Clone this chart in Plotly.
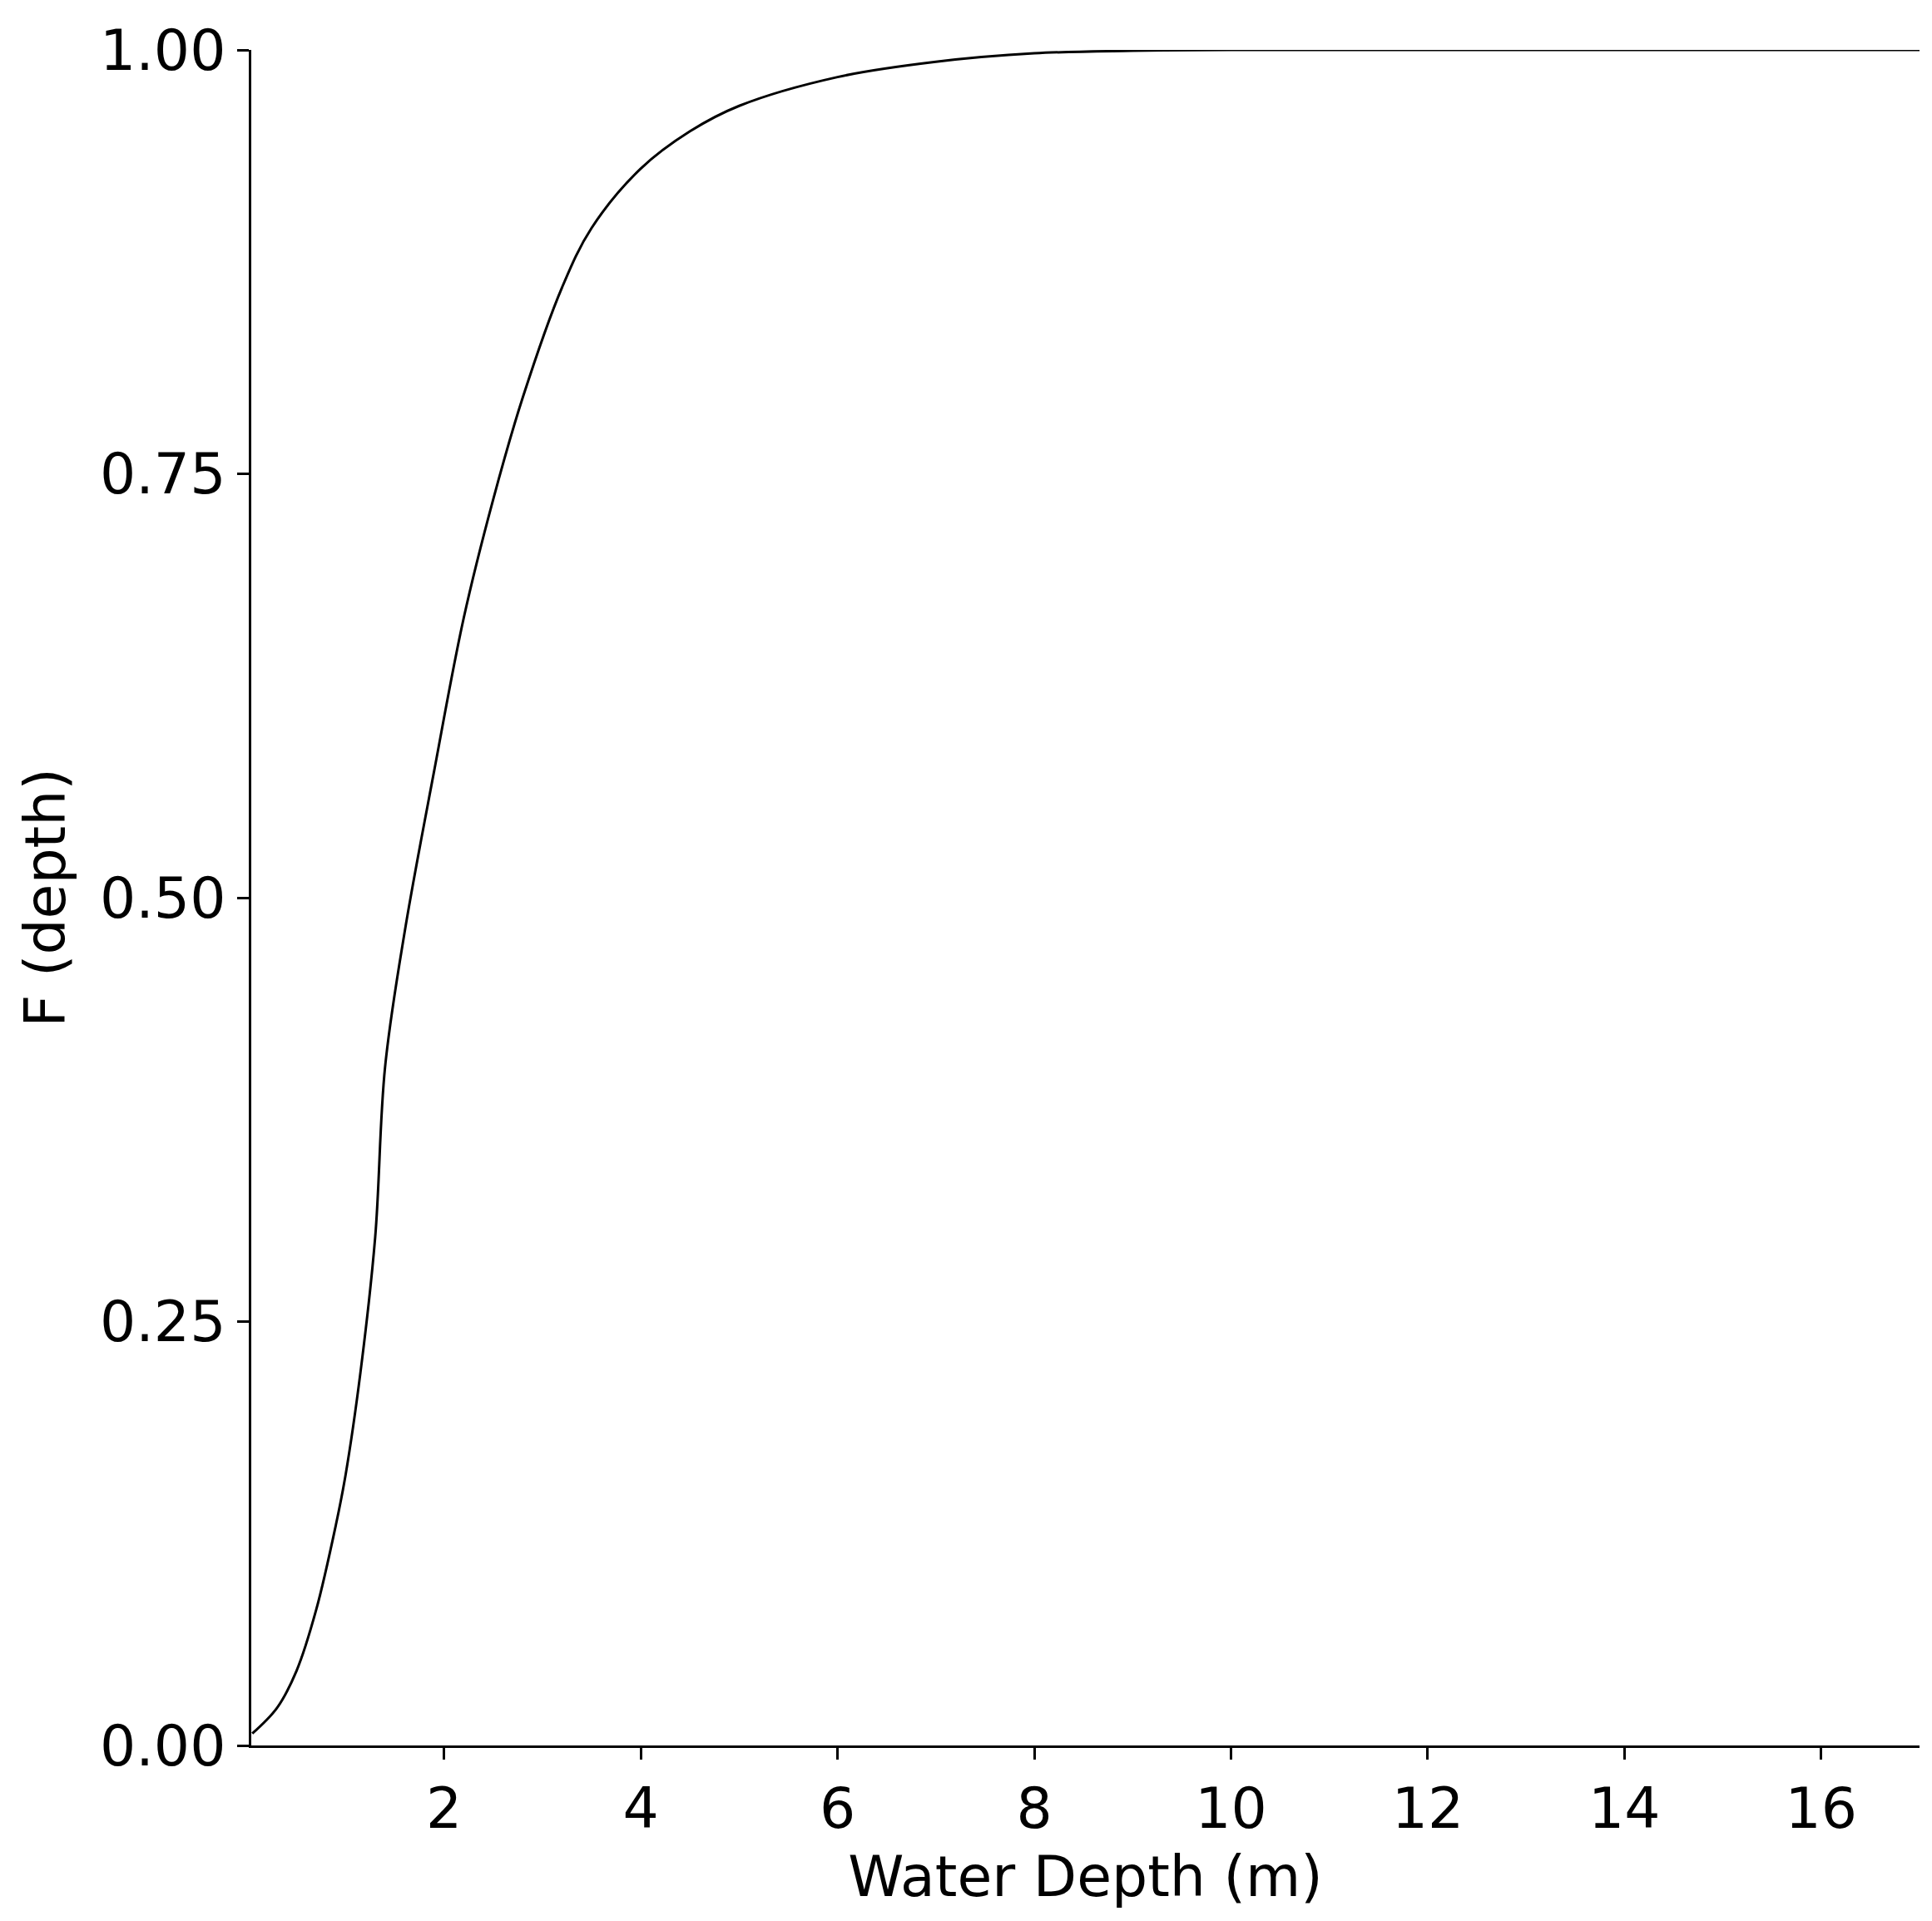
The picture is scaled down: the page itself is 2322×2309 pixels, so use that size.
import plotly.graph_objects as go

# CDF of water depth
depth = [0.05, 0.3, 0.5, 0.7, 0.9, 1.0, 1.15, 1.3, 1.4, 1.6, 1.9, 2.2, 2.5, 2.8,
         3.2, 3.5, 4.0, 4.5, 5.0, 6.0, 7.0, 8.0, 9.0, 10.0, 12.0, 14.0, 17.0]
cdf = [0.007, 0.022, 0.044, 0.08, 0.13, 0.16, 0.22, 0.30, 0.40, 0.48, 0.575, 0.665,
       0.735, 0.795, 0.86, 0.895, 0.93, 0.952, 0.967, 0.984, 0.993, 0.998, 0.9995,
       1.0, 1.0, 1.0, 1.0]

fig = go.Figure(go.Scatter(x=depth, y=cdf, mode="lines", line_shape="spline",
                           line=dict(color="black", width=3)))

axis = dict(showline=True, linecolor="black", linewidth=3, showgrid=False,
            zeroline=False, ticks="outside", ticklen=14, tickwidth=3,
            tickcolor="black", tickfont=dict(size=68, color="black"),
            title_font=dict(size=68, color="black"))
fig.update_xaxes(axis, range=[0.04, 17.0], tickvals=[2, 4, 6, 8, 10, 12, 14, 16],
                 title_text="Water Depth (m)", title_standoff=20)
fig.update_yaxes(axis, range=[0, 1], tickvals=[0, 0.25, 0.5, 0.75, 1.0],
                 tickformat=".2f", title_text="F (depth)", title_standoff=20)
fig.update_layout(width=2322, height=2309, plot_bgcolor="white", paper_bgcolor="white",
                  font=dict(family="DejaVu Sans"), showlegend=False,
                  margin=dict(l=294, r=23, t=52, b=219))
fig.write_html("out.html")
